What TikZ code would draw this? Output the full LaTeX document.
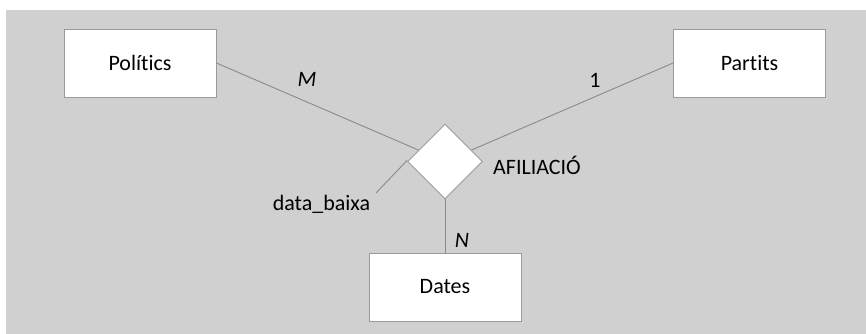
\documentclass[tikz,border=0pt]{standalone}
\usepackage{fontspec}
\setmainfont{Carlito}[Ligatures=NoCommon]
\usetikzlibrary{shapes.geometric}
\definecolor{panel}{HTML}{D0D0D0}
\definecolor{edgegray}{HTML}{8A8A8A}
\definecolor{boxgray}{HTML}{9A9A9A}
\begin{document}
\begin{tikzpicture}[x=1pt,y=-1pt,
  entity/.style={draw=boxgray,line width=0.9pt,fill=white,minimum width=152pt,minimum height=68pt,inner sep=0pt,font=\fontsize{22}{24}\selectfont},
  relation/.style={diamond,draw=boxgray,line width=0.9pt,fill=white,minimum width=75pt,minimum height=75pt,inner sep=0pt},
  link/.style={draw=edgegray,line width=0.9pt},
  lbl/.style={inner sep=0pt,font=\fontsize{22}{24}\selectfont}]
  % page and grey panel
  \useasboundingbox (0,0) rectangle (866,334);
  \fill[white] (0,0) rectangle (866,334);
  \fill[panel] (6,10) rectangle (866,334);
  % entities and relationship
  \node[entity] (pol) at (140,63) {Polítics};
  \node[entity] (par) at (749.5,63) {Partits};
  \node[entity] (dat) at (445,287) {Dates};
  \node[relation] (rel) at (445,161.5) {};
  \coordinate (db) at (376,193);
  % connectors
  \draw[link] (pol.east) -- (rel);
  \draw[link] (par.west) -- (rel);
  \draw[link] (rel) -- (dat);
  \draw[link] ([yshift=1pt]rel.west) -- (db);
  % labels
  \node[lbl,font=\fontsize{22}{24}\selectfont\itshape] (m) at (307,79) {M};
  \node[lbl] (one) at (595,80) {1};
  \node[lbl,font=\fontsize{22}{24}\selectfont\itshape] (n) at (462,240) {N};
  \node[lbl,anchor=base west] (afi) at (493,174) {AFILIACIÓ};
  \node[lbl,anchor=base] (dbl) at (321.5,210) {data\_baixa};
\end{tikzpicture}
\end{document}
